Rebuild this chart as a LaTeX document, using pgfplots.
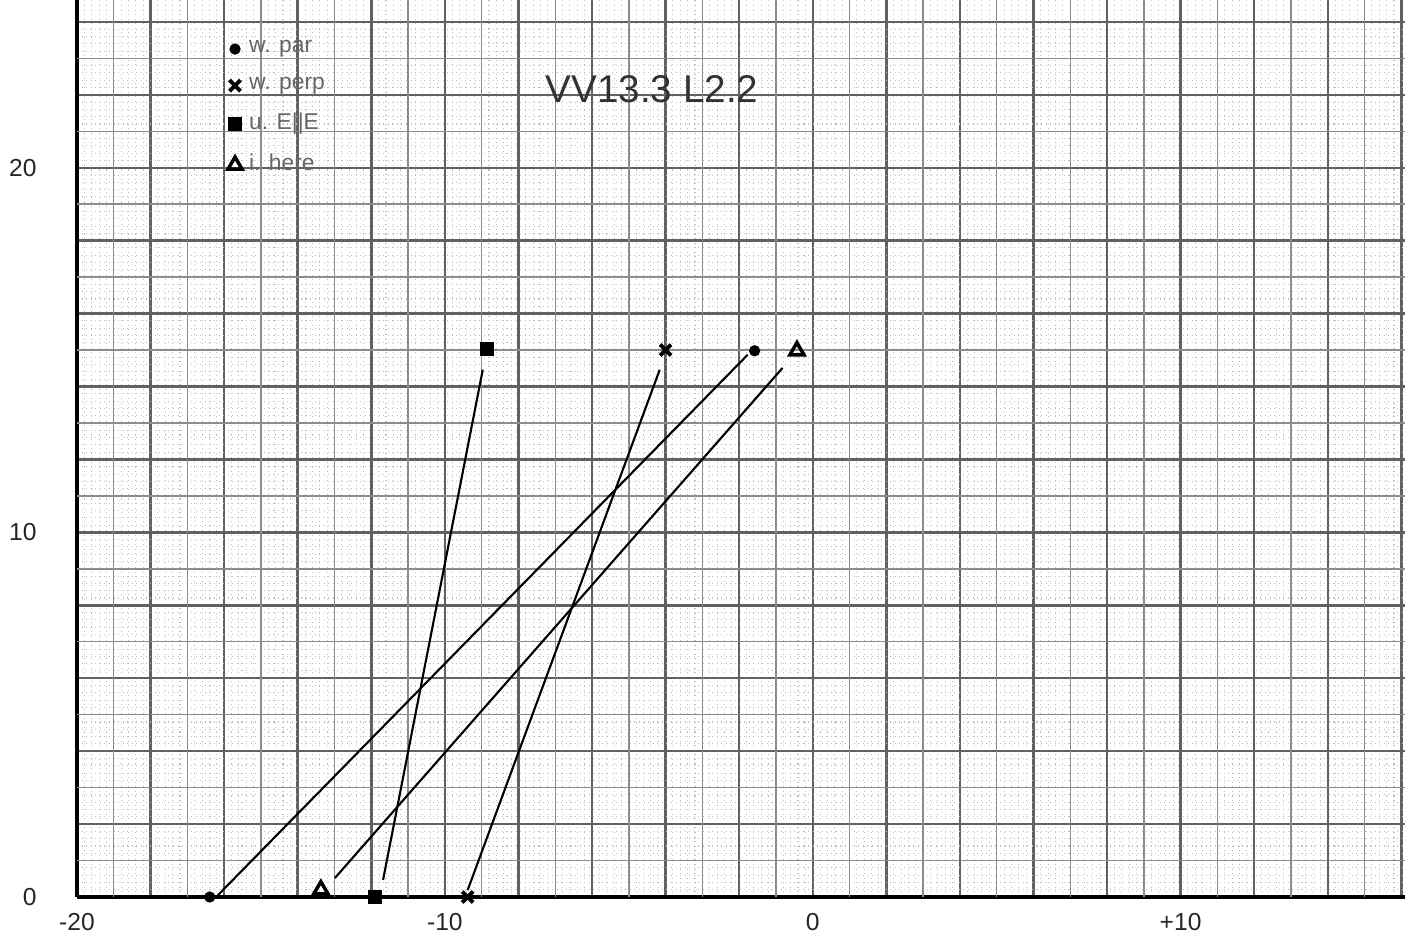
\documentclass[border=0pt]{standalone}
\usepackage{fontspec}
\setmainfont{Liberation Sans}
\usepackage{pgfplots}
\pgfplotsset{compat=1.18}
\usetikzlibrary{calc}
\begin{document}
\begin{tikzpicture}
\begin{axis}[
    scale only axis, width=13.28cm, height=8.97cm,
    xmin=-20, xmax=16.1, ymin=0, ymax=24.6,
    axis lines*=left,
    axis line style={black, line width=0.9pt},
    /pgf/number format/assume math mode=true,
    xtick={-20,-18,...,16},
    xticklabels={-20,,,,,-10,,,,,0,,,,,+10,,,},
    ytick={0,2,...,24},
    yticklabels={0,,,,,10,,,,,20,,},
    minor x tick num=9, minor y tick num=9,
    major tick length=0pt, minor tick length=0pt,
    grid=both,
    major grid style={black!62, line width=0.7pt},
    minor grid style={black!25, line width=0.3pt, densely dotted},
    extra x ticks={-19,-17,...,15}, extra x tick labels={},
    extra y ticks={1,3,...,23}, extra y tick labels={},
    extra tick style={grid=major, major grid style={black!45, line width=0.4pt}},
    tick label style={font=\fontsize{7}{8}\selectfont, text=black!85},
    xticklabel style={yshift=-1pt},
    yticklabel style={xshift=-8pt},
    legend style={at={(axis cs:-16.2,23.9)}, anchor=north west, draw=none, fill=none,
        font=\fontsize{6.5}{7}\selectfont, text=black!60, row sep=1.4pt},
    legend cell align=left,
]
% connecting lines (drawn short of the marks, as on the sheet)
\addplot[black, line width=0.6pt, forget plot] coordinates {(-16.17,0.05) (-1.77,14.87)};
\addplot[black, line width=0.6pt, forget plot] coordinates {(-9.38,0.19) (-4.16,14.46)};
\addplot[black, line width=0.6pt, forget plot] coordinates {(-11.68,0.47) (-8.97,14.46)};
\addplot[black, line width=0.6pt, forget plot] coordinates {(-12.99,0.52) (-0.82,14.51)};
% marks
\addplot[only marks, mark=*, mark size=1.4pt, black] coordinates {(-16.39,0) (-1.58,14.98)};
\addplot[only marks, mark=x, mark size=2.2pt, black, mark options={line width=1.1pt}] coordinates {(-9.38,0) (-4.0,15.0)};
\addplot[only marks, mark=square*, mark size=1.8pt, black] coordinates {(-11.9,0) (-8.86,15.03)};
\addplot[only marks, mark=triangle, mark size=2.3pt, black, mark options={line width=1pt}] coordinates {(-13.37,0.2) (-0.43,14.98)};
\legend{w. par, w. perp, u. E||E, i. here}
\node[font=\fontsize{11}{12}\selectfont, text=black!80, anchor=west] at (axis cs:-7.6,22.15) {VV13.3 L2.2};
\coordinate (sw) at (rel axis cs:0,0);
\coordinate (ne) at (rel axis cs:1,1);
\end{axis}
\pgfresetboundingbox
\path ($(sw)+(-0.77cm,-0.54cm)$) rectangle ($(ne)+(0.07cm,0)$);
\end{tikzpicture}
\end{document}
